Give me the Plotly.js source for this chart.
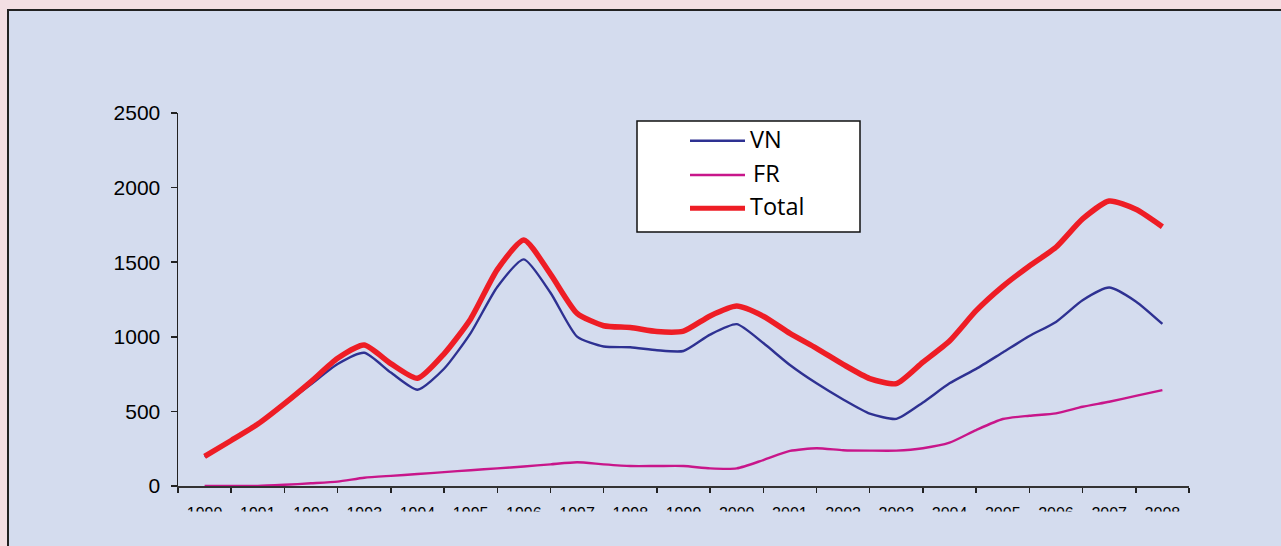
<!DOCTYPE html>
<html>
<head>
<meta charset="utf-8">
<script src="https://cdn.plot.ly/plotly-3.0.1.min.js"></script>
<style>
  html, body { margin: 0; padding: 0; background: #f3dfe3; }
  #chart { width: 1281px; height: 546px; }
</style>
</head>
<body>
<div id="chart"></div>
<script>
// ---- Data (half-year resolution) ----
const years = [
  1990, 1990.5, 1991, 1991.5, 1992, 1992.5, 1993, 1993.5, 1994, 1994.5,
  1995, 1995.5, 1996, 1996.5, 1997, 1997.5, 1998, 1998.5, 1999, 1999.5,
  2000, 2000.5, 2001, 2001.5, 2002, 2002.5, 2003, 2003.5, 2004, 2004.5,
  2005, 2005.5, 2006, 2006.5, 2007, 2007.5, 2008
];
const vn = [
  196, 305, 415, 548, 682, 818, 893, 760, 645, 786,
  1025, 1334, 1519, 1295, 1001, 935, 930, 910, 905, 1015,
  1085, 958, 811, 688, 580, 485, 450, 560, 688, 785,
  895, 1005, 1100, 1245, 1330, 1237, 1086
];
const fr = [
  0, 0, 0, 8, 18, 29, 55, 68, 80, 93,
  106, 118, 131, 145, 159, 145, 134, 134, 134, 118,
  118, 174, 235, 253, 240, 237, 237, 253, 290, 375,
  449, 471, 487, 531, 565, 604, 643
];
const total = [
  198, 305, 415, 552, 700, 856, 945, 820, 722, 886,
  1120, 1450, 1649, 1420, 1157, 1074, 1062, 1035, 1038, 1140,
  1206, 1138, 1023, 923, 815, 720, 686, 830, 972, 1175,
  1338, 1475, 1600, 1790, 1910, 1855, 1738
];
const seriesNames = ["VN", "FR", "Total"];
const tickYears = [1990,1991,1992,1993,1994,1995,1996,1997,1998,1999,2000,2001,2002,2003,2004,2005,2006,2007,2008];
const tickLabels = ["1990","1991","1992","1993","1994","1995","1996","1997","1998","1999","2000","2001","2002","2003","2004","2005","2006","2007","2008"];
const yTicks = [0, 500, 1000, 1500, 2000, 2500];

// ---- Styles / layout geometry ----
const colors = { VN: "#2e3192", FR: "#c8168a", Total: "#ee1d25" };
const widths = { VN: 2.4, FR: 2.4, Total: 5.5 };
const W = 1281, H = 546;
const ml = 178, mr = 92, mt = 113, mb = 60;
const pw = W - ml - mr, ph = H - mt - mb;
const px = x => (x - ml) / pw;           // pixel x -> paper x
const py = y => (H - mb - y) / ph;       // pixel y -> paper y
const panelColor = "#d4dcee";

const values = { VN: vn, FR: fr, Total: total };
// Total is drawn last (on top), as in the reference
const traces = seriesNames.map(n => ({
  type: "scatter", mode: "lines", name: n,
  x: years, y: values[n],
  line: { color: colors[n], width: widths[n], shape: "spline", smoothing: 0.6 },
  showlegend: false, hoverinfo: "skip"
}));

const shapes = [
  // inner panel with dark border (left/top visible)
  { type: "rect", xref: "paper", yref: "paper", layer: "below",
    x0: px(8), x1: px(1300), y0: py(10), y1: py(570),
    fillcolor: panelColor, line: { color: "#222222", width: 2 } },
  // bottom area covering the lower half of the year labels (clipped in reference)
  { type: "rect", xref: "paper", yref: "paper", layer: "above",
    x0: px(120), x1: px(1260), y0: py(511.5), y1: py(560),
    fillcolor: panelColor, line: { width: 0 } },
  // legend box
  { type: "rect", xref: "paper", yref: "paper", layer: "above",
    x0: px(637), x1: px(860), y0: py(121), y1: py(232),
    fillcolor: "#ffffff", line: { color: "#111111", width: 1.5 } }
];
const legendRows = { VN: { y: 140.7, tx: 749, ty: 139 }, FR: { y: 175, tx: 752, ty: 172.5 }, Total: { y: 208.3, tx: 749, ty: 205.5 } };
const annotations = [];
seriesNames.forEach(n => {
  const r = legendRows[n];
  shapes.push({ type: "line", xref: "paper", yref: "paper", layer: "above",
    x0: px(690), x1: px(745), y0: py(r.y), y1: py(r.y),
    line: { color: colors[n], width: n === "Total" ? 5 : 2.4 } });
  annotations.push({ xref: "paper", yref: "paper", x: px(r.tx), y: py(r.ty),
    xanchor: "left", yanchor: "middle", showarrow: false, text: n, borderpad: 0,
    font: { family: "Open Sans, sans-serif", size: 23.5, color: "#000000" } });
});

const layout = {
  width: W, height: H,
  margin: { l: ml, r: mr, t: mt, b: mb, pad: 0 },
  paper_bgcolor: "#f3dfe3",
  plot_bgcolor: "rgba(0,0,0,0)",
  showlegend: false,
  xaxis: {
    type: "linear", range: [1989.5, 2008.5],
    tickmode: "array", tickvals: tickYears, ticktext: tickLabels,
    ticks: "", ticklabelstandoff: 12,
    tickfont: { family: "Liberation Sans, Arial, sans-serif", size: 16, color: "#000000" },
    minor: { tickmode: "linear", tick0: 1989.5, dtick: 1, ticks: "outside", ticklen: 5, tickwidth: 1.5, tickcolor: "#222222", showgrid: false },
    showline: true, linecolor: "#333333", linewidth: 2,
    showgrid: false, zeroline: false, fixedrange: true
  },
  yaxis: {
    range: [0, 2500], tickmode: "array", tickvals: yTicks,
    ticks: "outside", ticklen: 6, tickwidth: 1.5, tickcolor: "#222222",
    ticklabelstandoff: 6,
    tickfont: { family: "Liberation Sans, Arial, sans-serif", size: 21, color: "#000000" },
    showline: true, linecolor: "#222222", linewidth: 1.5,
    showgrid: false, zeroline: false, fixedrange: true
  },
  shapes: shapes,
  annotations: annotations
};

Plotly.newPlot("chart", traces, layout, { displayModeBar: false, staticPlot: true });
</script>
</body>
</html>
